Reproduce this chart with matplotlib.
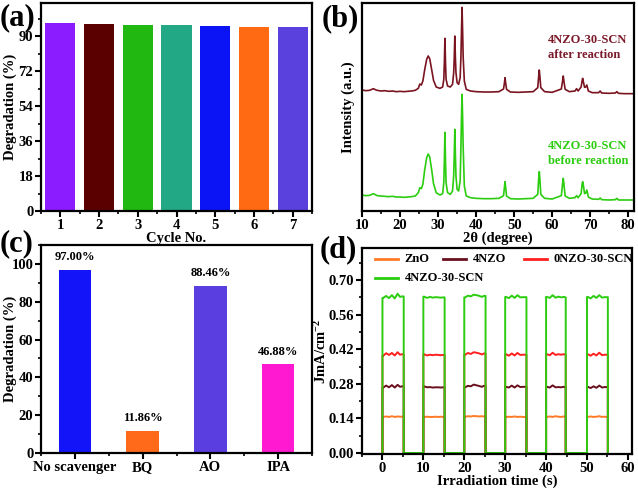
import matplotlib
matplotlib.use("Agg")
import matplotlib.pyplot as plt
import numpy as np
from matplotlib.ticker import MultipleLocator, FormatStrFormatter

plt.rcParams['font.family'] = ['Liberation Serif', 'DejaVu Serif']
plt.rcParams['font.weight'] = 'bold'
plt.rcParams['axes.labelweight'] = 'bold'
plt.rcParams['mathtext.fontset'] = 'custom'
plt.rcParams['mathtext.rm'] = 'Liberation Serif:bold'
plt.rcParams['mathtext.bf'] = 'Liberation Serif:bold'
plt.rcParams['mathtext.it'] = 'Liberation Serif:bold:italic'

# ---------------- data ----------------
# (a) cycling
cycles = [1, 2, 3, 4, 5, 6, 7]
cycle_deg = [96.7, 96.3, 95.8, 95.6, 95.1, 94.9, 94.4]
cycle_colors = ['#8a1cff', '#5a0000', '#22b812', '#22a884', '#0a14f5', '#ff6a12', '#5a40dc']

# (b) XRD, after reaction
xrd_after_x = [10.0, 11.0, 12.0, 12.6, 13.0, 13.5, 14.0, 15.0, 16.0, 17.0, 18.0, 19.0, 20.0, 21.0,
               22.0, 23.0, 24.0, 24.8, 25.2, 25.6, 26.0, 26.5, 27.0, 27.4, 27.8, 28.3, 28.8, 29.5,
               30.5, 31.2, 31.5, 31.65, 31.8, 31.95, 32.1, 32.5, 33.2, 33.8, 34.1, 34.25, 34.4,
               34.55, 34.7, 35.0, 35.4, 35.8, 36.0, 36.15, 36.3, 36.45, 36.6, 36.9, 37.4, 38.5,
               40.0, 42.0, 44.0, 46.0, 47.2, 47.45, 47.6, 47.75, 48.0, 49.0, 51.0, 53.0, 55.0,
               56.2, 56.45, 56.6, 56.75, 57.0, 58.0, 60.0, 62.4, 62.75, 62.9, 63.05, 63.4, 64.5,
               66.0, 66.4, 66.8, 67.6, 67.85, 68.0, 68.15, 68.5, 68.8, 69.1, 69.5, 70.5, 72.2,
               72.6, 73.0, 75.0, 76.6, 77.0, 77.4, 79.0, 81.5]
xrd_after_y = [363, 361, 362, 365, 367, 364, 362, 360, 361, 359, 360, 358, 359, 358,
               359, 360, 362, 368, 381, 378, 390, 425, 455, 465, 457, 425, 392, 372,
               368, 372, 395, 445, 518, 445, 395, 375, 372, 380, 415, 460, 525,
               460, 415, 385, 380, 400, 460, 540, 611, 540, 460, 390, 365, 360,
               358, 357, 357, 358, 366, 385, 400, 385, 365, 357, 356, 357, 358,
               370, 405, 423, 405, 370, 358, 356, 366, 392, 405, 392, 365, 358,
               360, 367, 360, 372, 390, 398, 390, 371, 372, 378, 360, 355, 355,
               360, 354, 353, 354, 358, 353, 352, 352]

# (b) XRD, before reaction
xrd_before_x = xrd_after_x
xrd_before_y = [48, 46, 47, 50, 52, 49, 46, 45, 44, 43, 44, 42, 42, 41,
                42, 43, 45, 55, 70, 67, 80, 125, 160, 171, 162, 125, 82, 55,
                48, 52, 85, 150, 236, 150, 85, 55, 50, 60, 105, 170, 245,
                170, 105, 65, 60, 90, 190, 280, 350, 280, 190, 75, 45, 40,
                38, 37, 37, 38, 46, 72, 88, 72, 45, 37, 36, 37, 38,
                50, 98, 118, 98, 50, 38, 36, 46, 84, 98, 84, 45, 38,
                40, 46, 40, 52, 80, 88, 80, 52, 54, 63, 42, 36, 35,
                39, 34, 33, 34, 38, 33, 33, 33]

# (c) scavenger test
scavengers = ['No scavenger', 'BQ', 'AO', 'IPA']
scav_deg = [97.00, 11.86, 88.46, 46.88]
scav_colors = ['#1414f8', '#ff6a1a', '#5a3ee0', '#ff1ad2']

# (d) transient photocurrent
on_start = [0.0, 10.0, 20.0, 30.0, 40.0, 50.0]
on_end = [5.2, 15.2, 25.2, 35.2, 44.8, 55.1]
sample_offsets = [0.2, 0.9, 1.6, 2.3, 3.0, 3.7, 4.3, 4.8]
series_names = ['ZnO', '4NZO', '0NZO-30-SCN', '4NZO-30-SCN']
series_colors = ['#ff7a26', '#6a0f1e', '#ff1f1f', '#2ccc10']
series_levels = {
    'ZnO': [[0.146, 0.148, 0.146, 0.149, 0.146, 0.148, 0.147, 0.147],
            [0.146, 0.147, 0.146, 0.146, 0.147, 0.146, 0.147, 0.146],
            [0.147, 0.149, 0.148, 0.150, 0.149, 0.148, 0.149, 0.148],
            [0.146, 0.147, 0.146, 0.148, 0.146, 0.147, 0.146, 0.146],
            [0.146, 0.148, 0.146, 0.149, 0.147, 0.146, 0.148, 0.147],
            [0.146, 0.148, 0.146, 0.147, 0.149, 0.146, 0.147, 0.146]],
    '4NZO': [[0.265, 0.273, 0.266, 0.275, 0.265, 0.276, 0.268, 0.270],
             [0.270, 0.266, 0.267, 0.265, 0.266, 0.266, 0.265, 0.266],
             [0.266, 0.272, 0.270, 0.277, 0.274, 0.271, 0.268, 0.272],
             [0.268, 0.265, 0.273, 0.265, 0.274, 0.267, 0.268, 0.268],
             [0.268, 0.265, 0.274, 0.266, 0.267, 0.266, 0.268, 0.266],
             [0.268, 0.263, 0.270, 0.264, 0.273, 0.265, 0.267, 0.267]],
    '0NZO-30-SCN': [[0.394, 0.404, 0.397, 0.405, 0.395, 0.408, 0.398, 0.400],
                    [0.400, 0.395, 0.398, 0.396, 0.398, 0.397, 0.396, 0.397],
                    [0.398, 0.405, 0.401, 0.408, 0.406, 0.403, 0.399, 0.403],
                    [0.400, 0.394, 0.403, 0.395, 0.405, 0.397, 0.398, 0.398],
                    [0.400, 0.396, 0.406, 0.397, 0.400, 0.398, 0.400, 0.398],
                    [0.400, 0.394, 0.402, 0.395, 0.406, 0.396, 0.398, 0.398]],
    '4NZO-30-SCN': [[0.628, 0.636, 0.627, 0.639, 0.626, 0.645, 0.632, 0.634],
                    [0.633, 0.628, 0.632, 0.629, 0.631, 0.630, 0.629, 0.630],
                    [0.630, 0.637, 0.634, 0.641, 0.639, 0.636, 0.632, 0.636],
                    [0.632, 0.627, 0.637, 0.628, 0.639, 0.630, 0.631, 0.631],
                    [0.632, 0.628, 0.639, 0.629, 0.633, 0.630, 0.632, 0.630],
                    [0.632, 0.626, 0.636, 0.628, 0.639, 0.629, 0.631, 0.631]],
}

# ---------------- figure ----------------
fig = plt.figure(figsize=(6.38, 4.88), dpi=100)
W, H = 638.0, 488.0


def px_axes(l, t, r, b):
    return fig.add_axes([l / W, 1 - b / H, (r - l) / W, (b - t) / H])


def style(ax):
    for s in ax.spines.values():
        s.set_linewidth(1.6)
    ax.tick_params(which='major', direction='out', length=4, width=1.5, labelsize=10.5, pad=1.5)
    ax.tick_params(which='minor', direction='out', length=2.5, width=1.2)


FS = 10.5

# (a)
ax = px_axes(41, 3, 312, 211)
ax.bar(cycles, cycle_deg, width=0.78, color=cycle_colors)
ax.set_xlim(0.5, 7.5)
ax.set_ylim(0, 107)
ax.yaxis.set_major_locator(MultipleLocator(18))
ax.yaxis.set_minor_locator(MultipleLocator(9))
ax.xaxis.set_major_locator(MultipleLocator(1))
ax.xaxis.set_minor_locator(MultipleLocator(0.5))
ax.set_xlabel('Cycle No.', fontsize=FS, labelpad=0)
ax.set_ylabel('Degradation (%)', fontsize=FS)
ax.yaxis.set_label_coords(-0.089, 0.5)
style(ax)

# (b)
ax = px_axes(362, 3, 634, 211)
ax.plot(xrd_after_x, xrd_after_y, color='#7a1420', lw=1.2)
ax.plot(xrd_before_x, xrd_before_y, color='#2ccc10', lw=1.2)
ax.set_xlim(10, 81.5)
ax.set_ylim(0, 624)
ax.set_yticks([])
ax.xaxis.set_major_locator(MultipleLocator(10))
ax.xaxis.set_minor_locator(MultipleLocator(5))
ax.text(58.9, 490, '4NZO-30-SCN\nafter reaction', color='#7a1a2a', fontsize=9,
        ha='left', va='center', linespacing=1.35)
ax.text(58.9, 173, '4NZO-30-SCN\nbefore reaction', color='#2ccc10', fontsize=9,
        ha='left', va='center', linespacing=1.35)
ax.set_xlabel('2θ (degree)', fontsize=FS, labelpad=0)
ax.set_ylabel('Intensity (a.u.)', fontsize=FS)
ax.yaxis.set_label_coords(-0.026, 0.5)
style(ax)

# (c)
ax = px_axes(41, 245, 312, 453)
pos = np.arange(len(scavengers))
ax.bar(pos, scav_deg, width=0.48, color=scav_colors)
for p, v in zip(pos, scav_deg):
    ax.text(p, v + 3.5, '%.2f%%' % v, ha='center', va='bottom', fontsize=9)
ax.set_xticks(pos)
ax.set_xticklabels(scavengers)
ax.xaxis.set_minor_locator(MultipleLocator(0.5))
ax.set_xlim(-0.5, 3.5)
ax.set_ylim(0, 110)
ax.yaxis.set_major_locator(MultipleLocator(20))
ax.yaxis.set_minor_locator(MultipleLocator(10))
ax.set_ylabel('Degradation (%)', fontsize=FS)
ax.yaxis.set_label_coords(-0.089, 0.5)
style(ax)

# (d)
ax = px_axes(362, 248, 632, 454)
for name, col in zip(series_names, series_colors):
    xs, ys = [], []
    for k, (t0, t1) in enumerate(zip(on_start, on_end)):
        lv = series_levels[name][k]
        xs += [t0, t0]
        ys += [0, lv[0]]
        for off, v in zip(sample_offsets, lv):
            xs.append(min(t0 + off, t1))
            ys.append(v)
        xs += [t1, t1]
        ys += [lv[-1], 0]
    ax.plot(xs, ys, color=col, lw=1.4, clip_on=False)

# legend drawn by hand: three entries in the first row, one below
legend_slots = [(0.048, 0.947), (0.300, 0.947), (0.600, 0.947), (0.048, 0.854)]
for (lx, ly), name, col in zip(legend_slots, series_names, series_colors):
    ax.plot([lx, lx + 0.085], [ly, ly], color=col, lw=2, transform=ax.transAxes)
    ax.text(lx + 0.11, ly, name, fontsize=9, ha='left', va='center', transform=ax.transAxes)

ax.set_xlim(-5, 61)
ax.set_ylim(-0.004, 0.83)
ax.set_yticks([0.0, 0.14, 0.28, 0.42, 0.56, 0.70])
ax.yaxis.set_major_formatter(FormatStrFormatter('%.2f'))
ax.yaxis.set_minor_locator(MultipleLocator(0.07))
ax.xaxis.set_major_locator(MultipleLocator(10))
ax.xaxis.set_minor_locator(MultipleLocator(5))
ax.set_xlabel('Irradiation time (s)', fontsize=FS, labelpad=0)
ax.set_ylabel(r'JmA/cm$^{-2}$', fontsize=FS)
ax.yaxis.set_label_coords(-0.122, 0.5)
style(ax)

# panel labels
for lab, x, y in [('(a)', 0, 25), ('(b)', 322, 26), ('(c)', 0, 251), ('(d)', 320, 257)]:
    fig.text(x / W, 1 - y / H, lab, fontsize=22, ha='left', va='baseline')

fig.savefig('out.png', dpi=100)
